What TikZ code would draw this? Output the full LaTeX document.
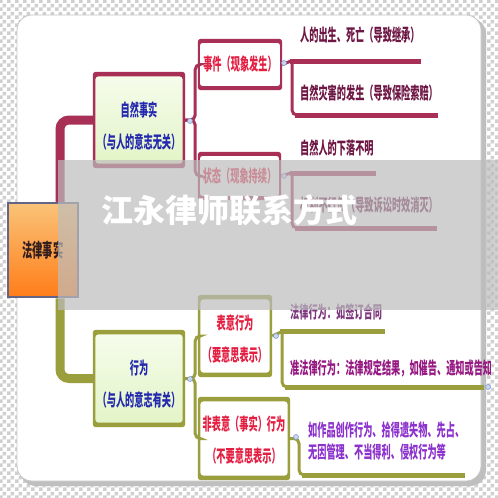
\documentclass[tikz,border=0pt]{standalone}
\usepackage{fontspec}
\newfontfamily\cjk[FakeStretch=0.54]{Noto Sans CJK SC}
\newfontfamily\cjkwm{Noto Sans CJK SC}
\usetikzlibrary{patterns}
\definecolor{maroonc}{RGB}{168,48,86}
\definecolor{olivec}{RGB}{155,158,60}
\definecolor{checkg}{RGB}{208,208,208}
\definecolor{titleblue}{RGB}{35,40,175}
\definecolor{titlered}{RGB}{228,30,65}
\definecolor{leafm}{RGB}{110,22,68}
\definecolor{leafa}{RGB}{125,55,125}
\definecolor{leafb}{RGB}{150,25,130}
\definecolor{leafc}{RGB}{140,50,205}
\definecolor{rootline}{RGB}{100,100,135}
\definecolor{rootText}{RGB}{50,30,30}
\definecolor{orTop}{RGB}{250,195,120}
\definecolor{orMid}{RGB}{255,150,45}
\definecolor{orBot}{RGB}{255,125,25}
\definecolor{gTop}{RGB}{246,252,236}
\definecolor{gBot}{RGB}{226,244,198}
\definecolor{wmgray}{gray}{0.74}
\definecolor{mkfill}{RGB}{200,215,240}
\definecolor{mkline}{RGB}{120,150,210}
\pgfdeclarepatternformonly{checkers}{\pgfpointorigin}{\pgfqpoint{8pt}{8pt}}{\pgfqpoint{8pt}{8pt}}{%
  \pgfpathrectangle{\pgfpointorigin}{\pgfqpoint{4pt}{4pt}}%
  \pgfpathrectangle{\pgfqpoint{4pt}{4pt}}{\pgfqpoint{4pt}{4pt}}%
  \pgfusepath{fill}}
\begin{document}
\begin{tikzpicture}[x=1pt,y=-1pt,
  mainm/.style={draw=maroonc, line width=9pt, rounded corners=9pt},
  maino/.style={draw=olivec, line width=9pt, rounded corners=9pt},
  thinm/.style={draw=maroonc, line width=3pt, rounded corners=5pt},
  thino/.style={draw=olivec, line width=3pt, rounded corners=5pt},
  ulm/.style={draw=maroonc, line width=5pt},
  ulo/.style={draw=olivec, line width=5pt},
  rootbox/.style={rectangle, inner sep=0pt, minimum width=70pt, minimum height=94pt, draw=rootline, line width=2.5pt, top color=orTop, middle color=orMid, bottom color=orBot, text=rootText, font=\cjk\bfseries\fontsize{19}{22}\selectfont},
  gbox/.style={rectangle, rounded corners=3pt, inner sep=0pt, top color=gTop, bottom color=gBot},
  wbox/.style={rectangle, rounded corners=3pt, inner sep=0pt, fill=white, text=titlered, font=\cjk\bfseries\fontsize{17}{32}\selectfont},
  btext/.style={inner sep=0pt, align=center, font=\cjk\bfseries\fontsize{17}{32}\selectfont},
  leaf/.style={anchor=west, inner sep=0pt, align=left, font=\cjk\bfseries\fontsize{17}{22}\selectfont},
  mk/.style={circle, minimum size=5pt, inner sep=0pt, fill=mkfill, draw=mkline, line width=0.5pt}]
\useasboundingbox (0,0) rectangle (498,498);
% background checkerboard
\fill[white] (0,0) rectangle (498,498);
\fill[pattern=checkers, pattern color=checkg] (0,0) rectangle (498,498);
% card with shadow
\fill[gray!50, rounded corners=16pt] (20,18) rectangle (486,486);
\fill[white, draw=gray!45, line width=0.8pt, rounded corners=15pt] (17,15) rectangle (481,481);

% boxes (positions)
\node[rootbox] (root) at (43,250) {};
\node[gbox, minimum width=92pt, minimum height=96pt] (ziran) at (139,120) {};
\node[gbox, minimum width=92pt, minimum height=97pt] (xingwei) at (139,378.5) {};
\node[wbox, minimum width=84pt, minimum height=51pt] (shijian) at (240,64.5) {事件（现象发生）};
\node[wbox, minimum width=83pt, minimum height=48pt] (zhuangtai) at (239.5,176) {状态（现象持续）};
\node[wbox, minimum width=74pt, minimum height=82pt] (biaoyi) at (235,336) {};
\node[wbox, minimum width=92pt, minimum height=83pt] (feibiaoyi) at (244,438.5) {};

% main connectors
\draw[mainm] ([xshift=17pt]root.north) |- (ziran.west);
\draw[maino] ([xshift=17pt]root.south) |- (xingwei.west);
% redraw root over connector ends
\node[rootbox] (rootT) at (43,250) {法律事实};

% second level connectors
\draw[thinm] (ziran.east) -- ++(10,0) |- (shijian.west);
\draw[thinm] (ziran.east) -- ++(10,0) |- (zhuangtai.west);
\draw[thino] (xingwei.east) -- ++(10,0) |- (biaoyi.west);
\draw[thino] (xingwei.east) -- ++(10,0) |- (feibiaoyi.west);

% box frames (thick top/bottom, thinner sides)
\foreach \n/\c/\sx/\sy in {ziran/maroonc/2.5/4.5, xingwei/olivec/2.5/4.5, shijian/maroonc/2/4, zhuangtai/maroonc/2/4, biaoyi/olivec/2.5/4.5, feibiaoyi/olivec/2.5/4.5}
  {\fill[\c, even odd rule, rounded corners=3pt] (\n.north west) rectangle (\n.south east) ([shift={(\sx pt,-\sy pt)}]\n.north west) rectangle ([shift={(-\sx pt,\sy pt)}]\n.south east);}

% box texts
\node[btext, text=titleblue] (ziranT) at ([yshift=-6pt]ziran.center) {自然事实\\（与人的意志无关）};
\node[btext, text=titleblue] (xingweiT) at ([yshift=-6pt]xingwei.center) {行为\\（与人的意志有关）};
\node[btext, text=titlered] (biaoyiT) at ([yshift=-3pt]biaoyi.center) {表意行为\\（要意思表示）};
\node[btext, text=titlered] (feibiaoyiT) at ([yshift=-1.5pt]feibiaoyi.center) {非表意（事实）行为\\（不要意思表示）};

% leaves of 事件
\coordinate (u1) at (291,61);
\draw[thinm] (shijian.east) -- (u1);
\draw[ulm] (290,61) -- (421,61);
\draw[thinm] (292,61) |- (302,115);
\draw[ulm] (295,115) -- (438,115);
\node[leaf, text=leafm] (L1) at (300,35) {人的出生、死亡（导致继承）};
\node[leaf, text=leafm] (L2) at (300,93) {自然灾害的发生（导致保险索赔）};

% leaves of 状态
\coordinate (u3) at (291,173);
\draw[thinm] (zhuangtai.east) -- (u3);
\draw[ulm] (290,173) -- (376,173);
\draw[thinm] (292,173) |- (302,228);
\draw[ulm] (295,228) -- (437,228);
\node[leaf, text=leafm] (L3) at (300,148) {自然人的下落不明};
\node[leaf, text=leafm] (L4) at (300,205) {权利不行使（导致诉讼时效消灭）};

% leaves of 表意行为
\coordinate (u5) at (281,332);
\draw[thino] (biaoyi.east) -- (u5);
\draw[ulo] (280,331) -- (385,331);
\draw[thino] (282,331) |- (292,387);
\draw[ulo] (285,387) -- (484,387);
\node[leaf, text=leafa] (L5) at (290,312) {法律行为：如签订合同};
\begin{scope}
\clip (0,0) rectangle (490,498);
\node[leaf, text=leafb] (L6) at (290,368) {准法律行为：法律规定结果，如催告、通知或告知};
\end{scope}

% leaves of 非表意行为
\draw[thino] (feibiaoyi.east) -- (299,438.5) |- (310,475);
\draw[ulo] (302,475) -- (465,475);
\node[leaf, text=leafc] (L7) at (308,441) {如作品创作行为、拾得遗失物、先占、\\无因管理、不当得利、侵权行为等};

% collapse markers
\node[mk] (m1) at (190,121) {};
\node[mk] (m2) at (284,63) {};
\node[mk] (m3) at (284,176) {};
\node[mk] (m4) at (190,379) {};
\node[mk] (m5) at (276,336) {};
\node[mk] (m6) at (296,437) {};
\node[mk] (m7) at (488,387) {};

% watermark band and text
\fill[wmgray, opacity=0.7] (58,160) rectangle (498,310);
\node[inner sep=0pt, text=white, font=\cjkwm\bfseries\fontsize{32}{32}\selectfont] (wm) at (229,210) {江永律师联系方式};
\end{tikzpicture}
\end{document}
